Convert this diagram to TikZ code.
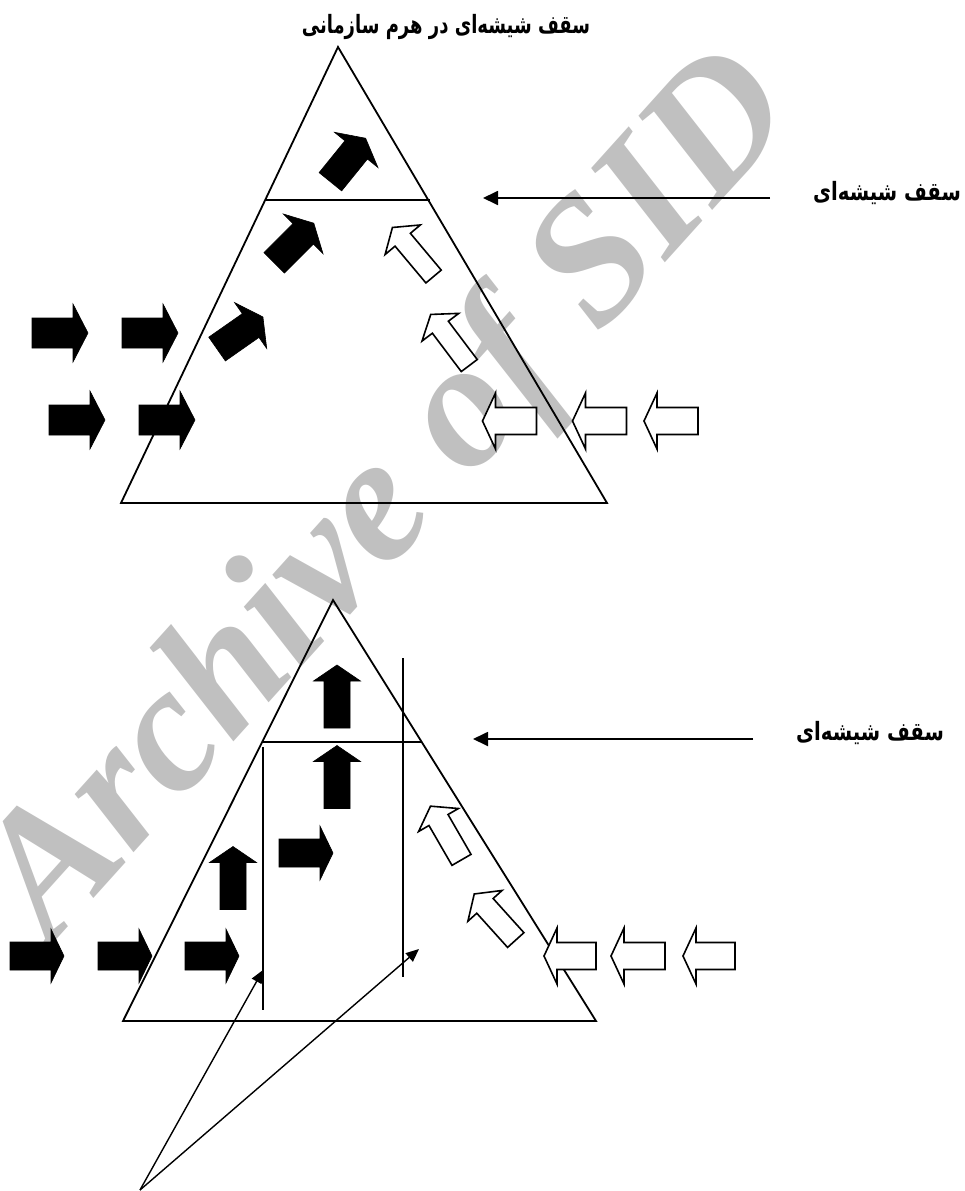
\documentclass[tikz,border=0pt]{standalone}
\usepackage{fontspec}
\newfontfamily\arabicfont[Script=Arabic]{DejaVu Sans}
\newfontfamily\wmfont{Liberation Serif}
\TeXXeTstate=1
\usetikzlibrary{arrows.meta}
\definecolor{wmgray}{RGB}{192,192,192}
% block arrow: x, y, angle, length, head length, head width, body width, style
\newcommand\BlkArr[8]{%
  \begin{scope}[shift={(#1,#2)},rotate=#3]
    \path[#8] ({-#4/2},{-#7/2}) -- ({#4/2-#5},{-#7/2}) -- ({#4/2-#5},{-#6/2}) -- ({#4/2},0)
      -- ({#4/2-#5},{#6/2}) -- ({#4/2-#5},{#7/2}) -- ({-#4/2},{#7/2}) -- cycle;
  \end{scope}}
\tikzset{
  tri/.style={draw=black, line width=1.8pt, line join=miter},
  thinline/.style={draw=black, line width=1.5pt},
  blk/.style={fill=black, draw=black, line width=0.6pt, line join=miter},
  hol/.style={fill=white, draw=black, line width=1.6pt, line join=miter},
  lblarrow/.style={draw=black, line width=1.8pt, -{Triangle[length=15pt,width=14pt]}},
  ptrarrow/.style={draw=black, line width=1.4pt, -{Triangle[length=13pt,width=11pt]}},
  lbl/.style={font=\arabicfont\bfseries\fontsize{24}{28}\selectfont, inner sep=0pt},
}
\begin{document}
\begin{tikzpicture}[x=1pt,y=-1pt]
\useasboundingbox (0,0) rectangle (965,1191);
% watermark
\node[anchor=base, rotate=48, text=wmgray, inner sep=0pt,
  font=\wmfont\bfseries\itshape\fontsize{180}{180}\selectfont] (wm) at (426,529) {Archive of SID};

% ---------- top pyramid ----------
\node[lbl] (title) at (446,27) {\scalebox{0.75}[1.05]{\beginR سقف شیشه‌ای در هرم سازمانی\endR}};
\coordinate (tA) at (338,47);
\coordinate (tB) at (121,503);
\coordinate (tC) at (607,503);
\draw[tri] (tA) -- (tB) -- (tC) -- cycle;
\coordinate (tgL) at (265,200);
\coordinate (tgR) at (430,200);
\draw[tri] (tgL) -- (tgR);
\node[lbl] (tlabel) at (887,193) {\scalebox{0.82}[1.05]{\beginR سقف شیشه‌ای\endR}};
\coordinate (tlS) at (770,198);
\coordinate (tlT) at (483,198);
\draw[lblarrow] (tlS) -- (tlT);

\BlkArr{60}{333}{0}{56}{15}{58}{30}{blk}
\BlkArr{150}{333}{0}{56}{15}{58}{30}{blk}
\BlkArr{77}{420}{0}{56}{15}{58}{30}{blk}
\BlkArr{167}{420}{0}{56}{15}{58}{30}{blk}
\BlkArr{240}{333}{35}{56}{15}{56}{29}{blk}
\BlkArr{294}{243}{45}{56}{15}{56}{29}{blk}
\BlkArr{348}{160}{51}{56}{15}{56}{29}{blk}

\BlkArr{413}{252}{130}{64}{16}{46}{20}{hol}
\BlkArr{450}{340}{127}{64}{16}{46}{20}{hol}
\BlkArr{509.5}{421}{180}{54}{13}{56}{27}{hol}
\BlkArr{599.5}{421}{180}{54}{13}{56}{27}{hol}
\BlkArr{671}{421}{180}{54}{13}{56}{27}{hol}

% ---------- bottom pyramid ----------
\coordinate (bA) at (333,600);
\coordinate (bB) at (123,1021);
\coordinate (bC) at (596,1021);
\draw[tri] (bA) -- (bB) -- (bC) -- cycle;
\coordinate (bgL) at (263,742);
\coordinate (bgR) at (422,742);
\draw[tri] (bgL) -- (bgR);
\coordinate (vL1) at (263,747);
\coordinate (vL2) at (263,1010);
\draw[thinline] (vL1) -- (vL2);
\coordinate (vR1) at (403,658);
\coordinate (vR2) at (403,977);
\draw[thinline] (vR1) -- (vR2);
\node[lbl] (blabel) at (870,733) {\scalebox{0.82}[1.05]{\beginR سقف شیشه‌ای\endR}};
\coordinate (blS) at (753,739);
\coordinate (blT) at (473,739);
\draw[lblarrow] (blS) -- (blT);

\BlkArr{337}{696.5}{90}{63}{16}{47}{26}{blk}
\BlkArr{337}{777}{90}{63}{16}{47}{26}{blk}
\BlkArr{233}{878}{90}{63}{16}{47}{26}{blk}
\BlkArr{306}{853}{0}{54}{13}{54}{28}{blk}
\BlkArr{37}{956}{0}{54}{13}{54}{28}{blk}
\BlkArr{125}{956}{0}{54}{13}{54}{28}{blk}
\BlkArr{212}{956}{0}{54}{13}{54}{28}{blk}

\BlkArr{446}{833}{120}{62}{16}{46}{22}{hol}
\BlkArr{495}{917}{132}{62}{16}{46}{22}{hol}
\BlkArr{570}{956}{180}{52}{13}{56}{27}{hol}
\BlkArr{638}{956}{180}{54}{13}{56}{27}{hol}
\BlkArr{709}{956}{180}{52}{13}{56}{27}{hol}

\coordinate (pO) at (140,1190);
\coordinate (pT1) at (263,970);
\coordinate (pT2) at (419,949);
\draw[ptrarrow] (pO) -- (pT1);
\draw[ptrarrow] (pO) -- (pT2);
\end{tikzpicture}
\end{document}
